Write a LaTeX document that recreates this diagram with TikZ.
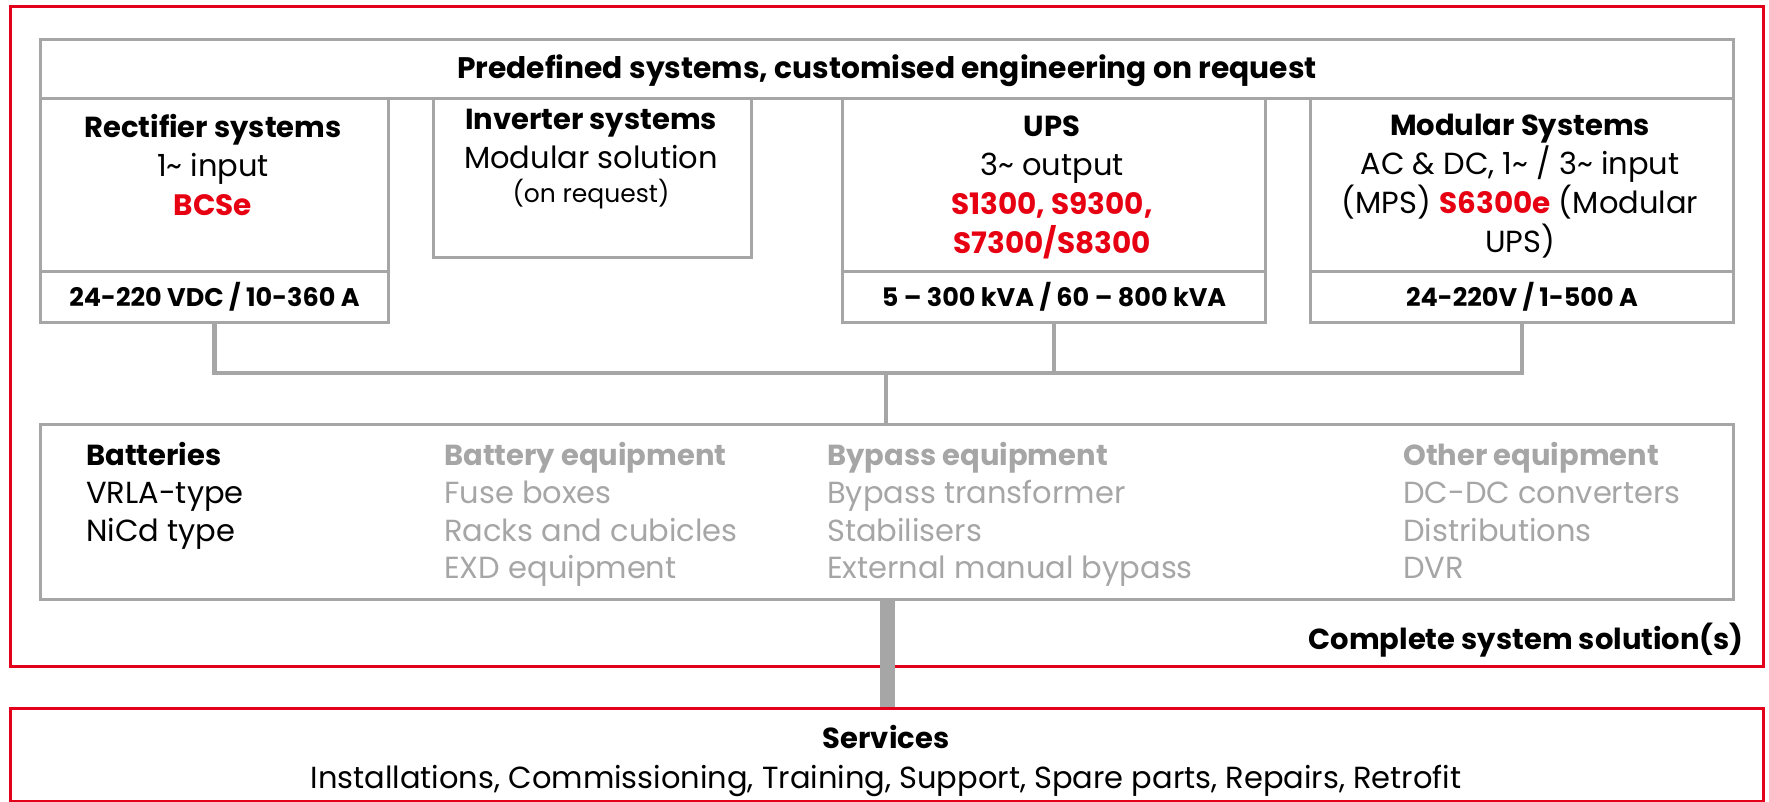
\documentclass[tikz,border=0pt]{standalone}
\usepackage{fontspec}
\setmainfont{Poppins}
\usetikzlibrary{positioning}
\definecolor{linegray}{RGB}{166,166,166}
\definecolor{textgray}{RGB}{166,166,166}
\definecolor{brandred}{RGB}{226,0,26}
\definecolor{brandtext}{RGB}{230,0,18}
\newcommand{\heading}[1]{{\fontsize{29}{39}\selectfont\bfseries #1}}
\newcommand{\model}[1]{\textcolor{brandtext}{\fontsize{29.5}{39}\selectfont\bfseries #1}}

\begin{document}
\begin{tikzpicture}[x=1pt,y=-1pt,
    panel/.style={draw=linegray,line width=3pt,anchor=north west,inner sep=0pt},
    redframe/.style={draw=brandred,line width=3pt,anchor=north west,inner sep=0pt},
    titletext/.style={font=\fontsize{30.5}{39}\selectfont,align=center,anchor=north,inner sep=0pt},
    rangelabel/.style={font=\fontsize{25.5}{30}\selectfont\bfseries},
    itemlist/.style={font=\fontsize{30.5}{37.8}\selectfont,align=left,anchor=north west,inner sep=0pt},
    link/.style={draw=linegray,line width=4.5pt},
  ]
  \useasboundingbox (0,0) rectangle (1769,801);

  % outer frames
  \node[redframe,minimum width=1753pt,minimum height=660pt] (solution) at (9,5) {};
  \node[redframe,minimum width=1753pt,minimum height=93pt] (services) at (9,707) {};

  % predefined systems
  \node[panel,minimum width=1693pt,minimum height=59pt] (header) at (39,38) {};
  \node[font=\fontsize{29.7}{34}\selectfont\bfseries,inner sep=0pt] (headertext) at ([yshift=-2pt]header.center) {Predefined systems, customised engineering on request};
  \node[panel,minimum width=348pt,minimum height=224pt] (rectifier) at (39,97) {};
  \node[panel,minimum width=348pt,minimum height=51pt,rangelabel] (rectrange) at (39,270) {24-220 VDC / 10-360 A};
  \node[panel,minimum width=318pt,minimum height=159pt] (inverter) at (432,97) {};
  \node[panel,minimum width=423pt,minimum height=224pt] (ups) at (841,97) {};
  \node[panel,minimum width=423pt,minimum height=51pt,rangelabel] (upsrange) at (841,270) {5 -- 300 kVA / 60 -- 800 kVA};
  \node[panel,minimum width=423pt,minimum height=224pt] (modular) at (1309,97) {};
  \node[panel,minimum width=423pt,minimum height=51pt,rangelabel] (modrange) at (1309,270) {24-220V / 1-500 A};

  \node[titletext] (recttext) at (213,114) {\heading{Rectifier systems}\\1\textasciitilde{} input\\\model{BCSe}};
  \node[titletext] (invtext) at (591,109) {\heading{Inverter systems}\\Modular solution\\[-5pt]{\fontsize{25}{30}\selectfont (on request)}};
  \node[titletext] (upstext) at (1052,116) {\heading{UPS}\\3\textasciitilde{} output\\\model{S1300, S9300,}\\\model{S7300/S8300}};
  \node[titletext] (modtext) at (1520,114) {\heading{Modular Systems}\\AC \& DC, 1\textasciitilde{} / 3\textasciitilde{} input\\(MPS) \model{S6300e} (Modular\\UPS)};

  % equipment
  \node[panel,minimum width=1693pt,minimum height=175pt] (equipment) at (39,423) {};
  \node[itemlist] (batteries) at (86,442) {\heading{Batteries}\\VRLA-type\\NiCd type};
  \node[itemlist,text=textgray] (batteryeq) at (444,442) {\heading{Battery equipment}\\Fuse boxes\\Racks and cubicles\\EXD equipment};
  \node[itemlist,text=textgray] (bypasseq) at (827,442) {\heading{Bypass equipment}\\Bypass transformer\\Stabilisers\\External manual bypass};
  \node[itemlist,text=textgray] (othereq) at (1403,442) {\heading{Other equipment}\\DC-DC converters\\Distributions\\DVR};
  \node[font=\fontsize{29}{34}\selectfont\bfseries,anchor=east,inner sep=0pt] (solutionlabel) at (1744,640) {Complete system solution(s)};

  \node[titletext] (servicetext) at (886,725) {\heading{Services}\\[1pt]Installations, Commissioning, Training, Support, Spare parts, Repairs, Retrofit};

  % connections
  \coordinate (hub) at (886,373);
  \draw[link] (rectrange.south) |- (hub);
  \draw[link] (modrange.south) |- (hub);
  \draw[link] (upsrange.south) -- (upsrange.south |- hub);
  \draw[link] (hub) -- (hub |- equipment.north);
  \draw[linegray,line width=15pt] (equipment.south) -- (services.north);
\end{tikzpicture}
\end{document}
